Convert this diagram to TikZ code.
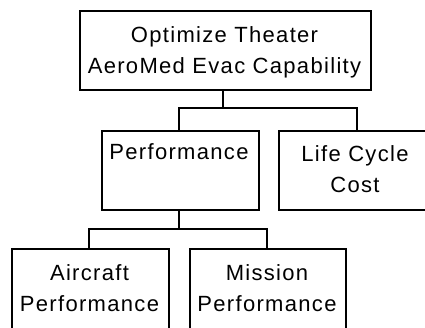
\documentclass[tikz,border=0pt]{standalone}
\usepackage{fontspec}
\setmainfont{Liberation Sans}[LetterSpace=6]
\begin{document}
\begin{tikzpicture}[x=1pt,y=-1pt,
  box/.style={draw=black, line width=1.6pt, rectangle, inner sep=0pt, anchor=north west},
  txt/.style={font=\fontsize{22}{30.5}\selectfont, align=center, anchor=base, inner sep=0pt},
  link/.style={draw=black, line width=1.6pt}]
  \useasboundingbox (0,0) rectangle (425,327);
  \clip (0,0) rectangle (425,327);
  % boxes
  \node[box, minimum width=291pt, minimum height=79pt] (top) at (79,10) {};
  \node[box, minimum width=157pt, minimum height=79pt] (perf) at (101,130) {};
  \node[box, minimum width=170pt, minimum height=79pt] (lcc) at (278,130) {};
  \node[box, minimum width=157pt, minimum height=100pt] (air) at (11,248) {};
  \node[box, minimum width=156pt, minimum height=100pt] (mis) at (189,248) {};
  % labels (base anchor sits on the last line's baseline)
  \node[txt] (ttop) at (224.5,73) {Optimize Theater\\AeroMed Evac Capability};
  \node[txt] (tperf) at (179,159) {Performance};
  \node[txt] (tlcc) at (355,192) {Life Cycle\\Cost};
  \node[txt] (tair) at (89.5,311) {Aircraft\\Performance};
  \node[txt] (tmis) at (267,311) {Mission\\Performance};
  % tree connectors
  \coordinate (j1) at (223,108);
  \coordinate (j1l) at (179,108);
  \coordinate (j1r) at (357,108);
  \draw[link] (top.south -| j1) -- (j1);
  \draw[link] (perf.north -| j1l) -- (j1l) -- (j1r) -- (lcc.north -| j1r);
  \coordinate (j2) at (179,229);
  \coordinate (j2l) at (89,229);
  \coordinate (j2r) at (267,229);
  \draw[link] (perf.south -| j2) -- (j2);
  \draw[link] (air.north -| j2l) -- (j2l) -- (j2r) -- (mis.north -| j2r);
\end{tikzpicture}
\end{document}
